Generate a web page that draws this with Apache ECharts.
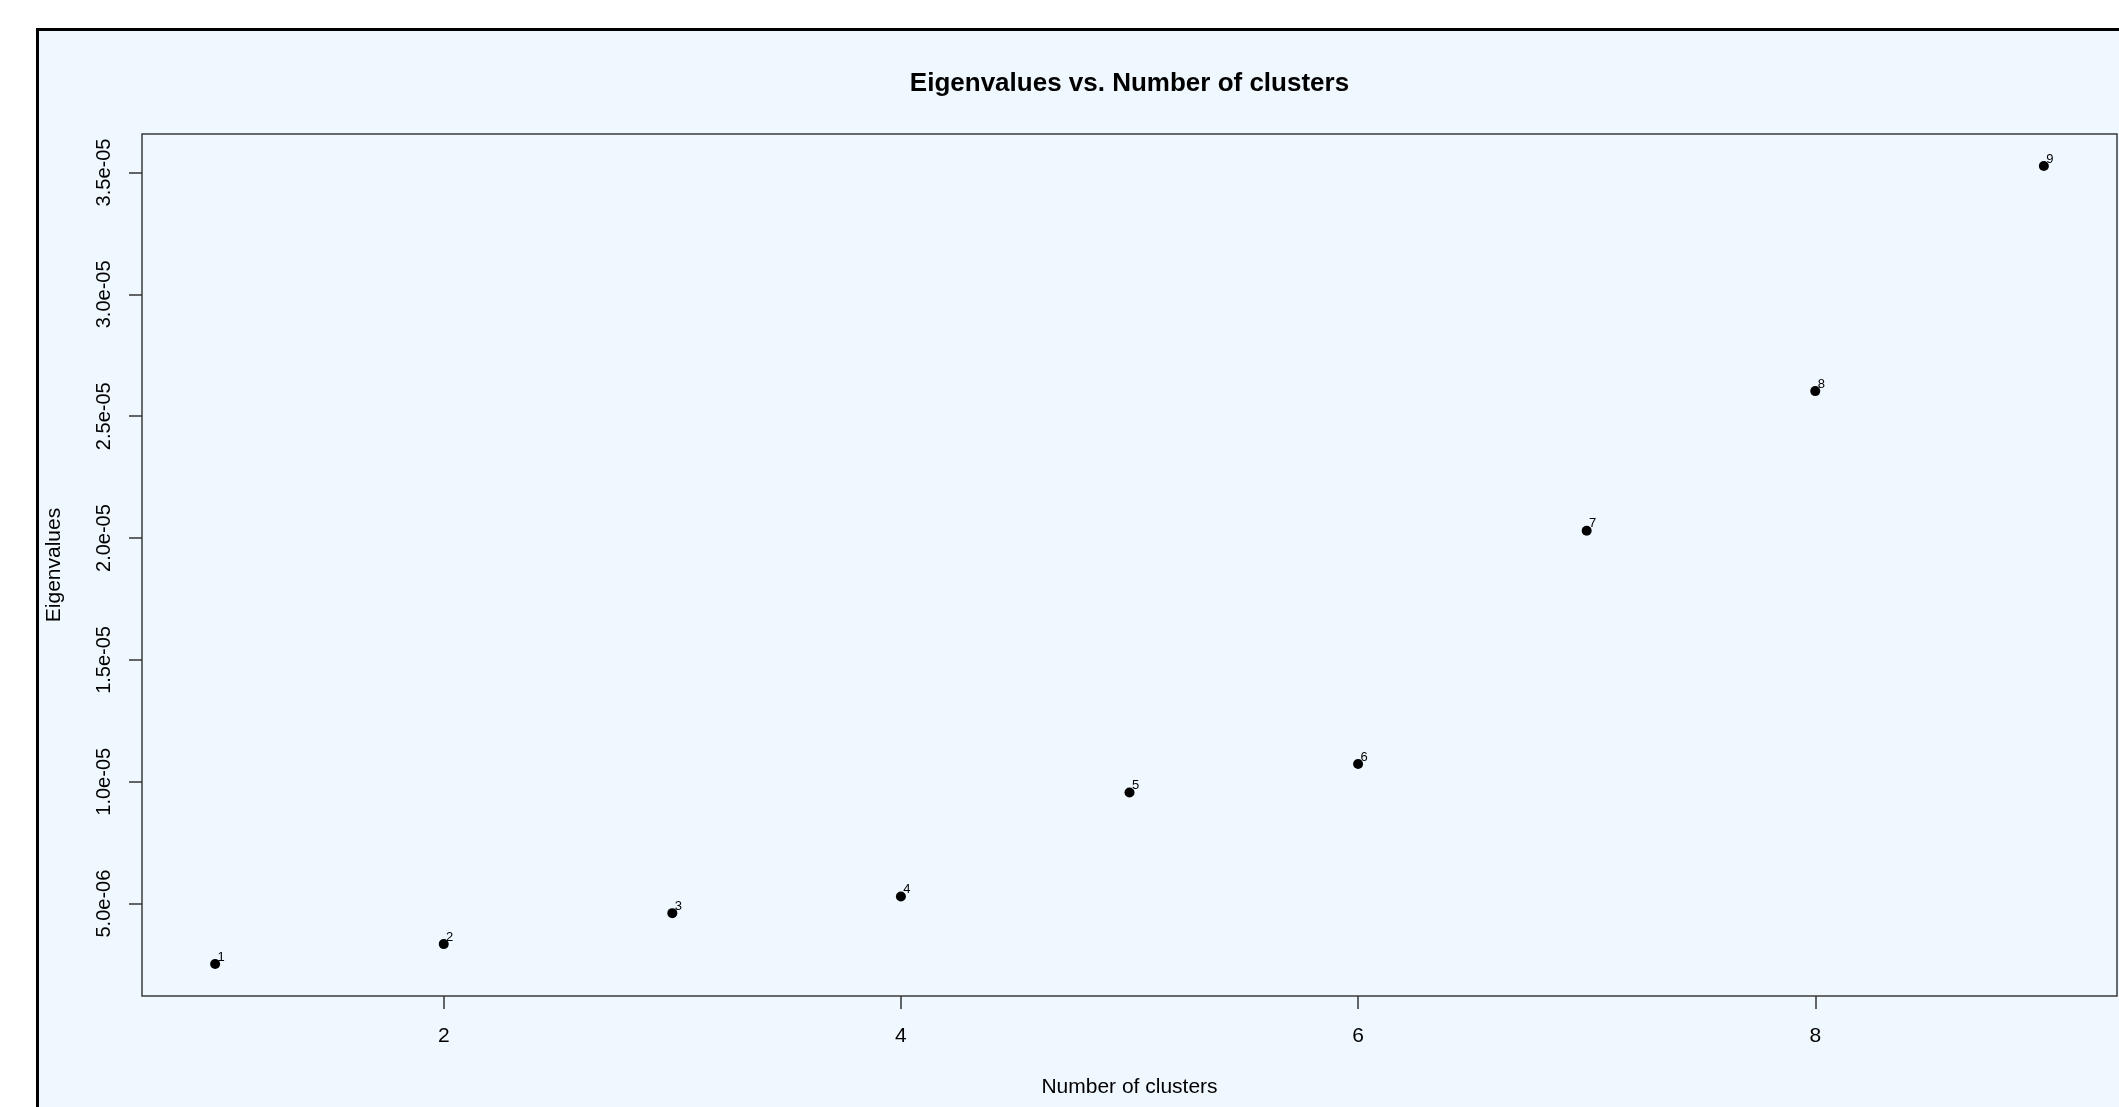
<!DOCTYPE html>
<html>
<head>
<meta charset="utf-8">
<script src="https://cdn.jsdelivr.net/npm/echarts@6/dist/echarts.min.js"></script>
<style>
html,body{margin:0;padding:0;background:#ffffff;}
#c{width:2119px;height:1107px;}
</style>
</head>
<body>
<div id="c"></div>
<script>
// ---- data ----
const clusters = [1, 2, 3, 4, 5, 6, 7, 8, 9];
const eigenvalues = [2.52e-6, 3.34e-6, 4.61e-6, 5.29e-6, 9.56e-6, 1.073e-5, 2.03e-5, 2.603e-5, 3.527e-5];
const pointLabels = ['1', '2', '3', '4', '5', '6', '7', '8', '9'];
const xTickValues = [2, 4, 6, 8];
const yTickValues = [5e-6, 1e-5, 1.5e-5, 2e-5, 2.5e-5, 3e-5, 3.5e-5];
const yTickLabels = ['5.0e-06', '1.0e-05', '1.5e-05', '2.0e-05', '2.5e-05', '3.0e-05', '3.5e-05'];
const titleText = 'Eigenvalues vs. Number of clusters';
const xTitle = 'Number of clusters';
const yTitle = 'Eigenvalues';

// R-style 4% axis expansion
function ext(arr) {
  const mn = Math.min.apply(null, arr), mx = Math.max.apply(null, arr);
  const d = (mx - mn) * 0.04;
  return [mn - d, mx + d];
}
const xr = ext(clusters), yr = ext(eigenvalues);
const FONT = '"Liberation Sans", Arial, sans-serif';

const chart = echarts.init(document.getElementById('c'));
chart.setOption({
  animation: false,
  backgroundColor: '#ffffff',
  graphic: [
    {
      type: 'rect', z: -10, silent: true,
      shape: { x: 37.5, y: 29.5, width: 2300, height: 1300 },
      style: { fill: '#F0F8FF', stroke: '#000000', lineWidth: 3 }
    },
    {
      type: 'text', z: 10,
      style: {
        x: 1129.5, y: 84, text: titleText, align: 'center', verticalAlign: 'middle',
        font: 'bold 26px ' + FONT, fill: '#000000'
      }
    }
  ],
  grid: {
    left: 142, top: 134, right: 2, bottom: 111,
    show: true, borderColor: '#3a3a3a', borderWidth: 1.5, backgroundColor: 'transparent'
  },
  xAxis: {
    type: 'value', min: xr[0], max: xr[1],
    name: xTitle, nameLocation: 'middle', nameGap: 81,
    nameTextStyle: { fontFamily: FONT, fontSize: 21, color: '#000' },
    axisLine: { show: false },
    splitLine: { show: false },
    axisTick: { show: true, inside: false, length: 13, customValues: xTickValues, lineStyle: { color: '#333', width: 1.5 } },
    axisLabel: { customValues: xTickValues, margin: 30, fontFamily: FONT, fontSize: 21, color: '#000',
      formatter: v => String(v) }
  },
  yAxis: {
    type: 'value', min: yr[0], max: yr[1],
    name: yTitle, nameLocation: 'middle', nameGap: 77, nameRotate: 90,
    nameTextStyle: { fontFamily: FONT, fontSize: 21, color: '#000' },
    axisLine: { show: false },
    splitLine: { show: false },
    axisTick: { show: true, inside: false, length: 13, customValues: yTickValues, lineStyle: { color: '#333', width: 1.5 } },
    axisLabel: { customValues: yTickValues, rotate: 90, margin: 28, fontFamily: FONT, fontSize: 20, color: '#000',
      formatter: v => {
        let best = 0, bd = Infinity;
        yTickValues.forEach((t, i) => { const d = Math.abs(t - v); if (d < bd) { bd = d; best = i; } });
        return yTickLabels[best];
      } }
  },
  series: [{
    type: 'scatter',
    data: clusters.map((c, i) => [c, eigenvalues[i]]),
    symbol: 'circle', symbolSize: 10,
    itemStyle: { color: '#000000', opacity: 1 },
    label: {
      show: true, position: 'inside', offset: [6, -7],
      formatter: p => pointLabels[p.dataIndex],
      fontFamily: FONT, fontSize: 13, color: '#000'
    }
  }]
});
</script>
</body>
</html>
